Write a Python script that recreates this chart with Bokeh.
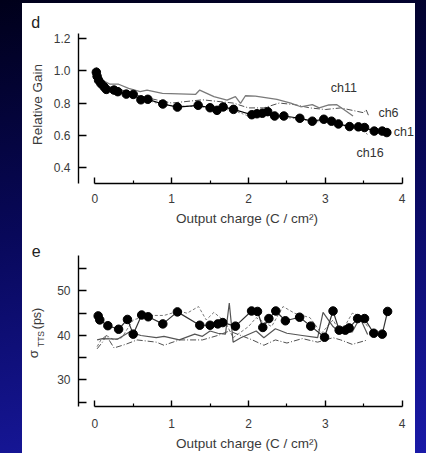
import math
from bokeh.plotting import figure
from bokeh.layouts import column, row
from bokeh.models import FixedTicker, Label
from bokeh.embed import file_html
from bokeh.resources import INLINE

# ---------------- data: panel d (relative gain vs output charge) ----------------
gain_ch1_x = [0.02, 0.03, 0.05, 0.08, 0.12, 0.15, 0.25, 0.30, 0.41, 0.50, 0.60, 0.69,
              0.885, 1.075, 1.345, 1.50, 1.59, 1.67, 1.805, 2.043, 2.11, 2.18, 2.25,
              2.34, 2.46, 2.668, 2.83, 2.98, 3.08, 3.17, 3.315, 3.43, 3.51, 3.636,
              3.74, 3.80]
gain_ch1_y = [0.99, 0.965, 0.94, 0.92, 0.90, 0.884, 0.88, 0.87, 0.855, 0.853, 0.82, 0.823,
              0.794, 0.775, 0.786, 0.771, 0.755, 0.776, 0.761, 0.728, 0.734, 0.737, 0.747,
              0.72, 0.72, 0.706, 0.688, 0.70, 0.688, 0.671, 0.655, 0.653, 0.649, 0.627,
              0.627, 0.618]

gain_ch11_x = [0.02, 0.10, 0.20, 0.31, 0.44, 0.59, 0.68, 0.88, 1.31, 1.365, 1.55, 1.72,
               1.83, 1.896, 1.96, 2.09, 2.37, 2.55, 2.68, 2.83, 2.92, 3.045, 3.15, 3.24, 3.36]
gain_ch11_y = [1.02, 0.94, 0.916, 0.916, 0.89, 0.87, 0.88, 0.86, 0.853, 0.88, 0.84, 0.818,
               0.84, 0.798, 0.845, 0.843, 0.822, 0.80, 0.777, 0.79, 0.77, 0.788, 0.79, 0.76, 0.72]

gain_ch6_x = [0.02, 0.10, 0.25, 0.45, 0.60, 0.80, 1.00, 1.20, 1.40, 1.60, 1.80, 2.00,
              2.20, 2.40, 2.60, 2.80, 3.00, 3.20, 3.40, 3.50, 3.53, 3.56]
gain_ch6_y = [1.00, 0.92, 0.89, 0.87, 0.84, 0.82, 0.80, 0.81, 0.82, 0.81, 0.80, 0.77,
              0.77, 0.80, 0.79, 0.77, 0.76, 0.77, 0.75, 0.74, 0.76, 0.725]

gain_ch16_x = [0.02, 0.10, 0.25, 0.45, 0.60, 0.80, 1.00, 1.20, 1.40, 1.60, 1.80, 2.00,
               2.20, 2.40, 2.60, 2.80, 3.00, 3.20, 3.40, 3.50, 3.55]
gain_ch16_y = [0.98, 0.91, 0.875, 0.85, 0.83, 0.80, 0.785, 0.78, 0.775, 0.765, 0.755, 0.72,
               0.73, 0.715, 0.705, 0.69, 0.68, 0.665, 0.645, 0.635, 0.604]

channel_names = ["ch11", "ch6", "ch1", "ch16"]
channel_label_x = [3.07, 3.69, 3.89, 3.405]
channel_label_y = [0.894, 0.739, 0.622, 0.494]

# ---------------- data: panel e (sigma_TTS vs output charge) ----------------
tts_ch1_x = [0.044, 0.065, 0.17, 0.31, 0.425, 0.50, 0.61, 0.695, 0.885, 1.075, 1.366,
             1.50, 1.60, 1.665, 1.83, 2.04, 2.117, 2.186, 2.265, 2.355, 2.48, 2.665,
             2.81, 2.99, 3.10, 3.18, 3.26, 3.31, 3.42, 3.51, 3.63, 3.74, 3.81]
tts_ch1_y = [44.4, 43.5, 42.2, 41.4, 43.6, 40.3, 44.6, 44.2, 42.6, 45.3, 42.3,
             42.3, 42.6, 42.9, 42.1, 45.5, 45.4, 41.8, 43.8, 45.5, 43.3, 44.1,
             42.1, 39.6, 45.5, 41.2, 41.2, 41.7, 43.8, 43.8, 40.5, 40.3, 45.4]

tts_solid_x = [0.03, 0.10, 0.30, 0.45, 0.60, 0.80, 0.90, 1.10, 1.30, 1.40, 1.50, 1.60,
               1.70, 1.75, 1.80, 1.90, 2.10, 2.20, 2.35, 2.50, 2.70, 2.90, 2.97, 3.10,
               3.20, 3.35, 3.45, 3.55]
tts_solid_y = [39.0, 39.3, 39.2, 40.8, 40.0, 39.5, 39.8, 39.0, 40.3, 39.8, 41.0, 40.5,
               40.3, 47.3, 38.5, 39.5, 41.0, 39.5, 41.5, 40.5, 40.0, 39.5, 45.2, 42.0,
               40.5, 40.8, 44.0, 40.2]

tts_dash_x = [0.03, 0.08, 0.15, 0.25, 0.35, 0.50, 0.70, 0.90, 1.10, 1.20, 1.35, 1.45,
              1.55, 1.70, 1.80, 2.00, 2.10, 2.30, 2.45, 2.60, 2.80, 2.95, 3.10, 3.20,
              3.35, 3.45, 3.55]
tts_dash_y = [37.5, 39.0, 40.0, 39.0, 39.5, 43.5, 44.5, 44.5, 45.5, 45.0, 46.5, 43.5,
              45.2, 43.0, 39.5, 42.0, 44.0, 42.0, 46.5, 45.0, 44.0, 40.5, 43.5, 40.5,
              45.0, 44.5, 42.0]

tts_dashdot_x = [0.03, 0.10, 0.15, 0.25, 0.40, 0.55, 0.80, 0.90, 1.10, 1.40, 1.60, 1.75,
                 1.90, 2.05, 2.20, 2.35, 2.50, 2.70, 2.90, 3.10, 3.20, 3.35, 3.45, 3.55]
tts_dashdot_y = [37.0, 38.5, 40.0, 37.2, 38.0, 39.0, 38.5, 37.8, 39.0, 39.0, 40.0, 41.0,
                 40.0, 39.0, 37.8, 39.0, 38.3, 39.3, 38.5, 39.5, 39.0, 38.0, 38.5, 39.0]

x_ticks = [0, 1, 2, 3, 4]
x_minor_ticks = [0.5, 1.5, 2.5, 3.5]
gain_ticks = [0.4, 0.6, 0.8, 1.0, 1.2]
gain_tick_labels = {0.4: "0.4", 0.6: "0.6", 0.8: "0.8", 1.0: "1.0", 1.2: "1.2"}
tts_ticks = [25, 30, 35, 40, 45, 50, 55]
tts_tick_labels = {25: "", 30: "30", 35: "", 40: "40", 45: "", 50: "50", 55: ""}

FONT = "Liberation Sans"
TXT = "#3a3a3a"
PANEL_H = 225
SIDE_W = 26
MAIN_W = 367
XR = (-0.212, 4.173)


def style(p, label_standoff, title_standoff):
    p.grid.visible = False
    p.outline_line_color = None
    p.background_fill_color = "white"
    p.border_fill_color = "white"
    for ax in (p.xaxis[0], p.yaxis[0]):
        ax.axis_line_width = 1.4
        ax.axis_line_color = "black"
        ax.major_tick_line_color = "black"
        ax.major_tick_line_width = 1.4
        ax.minor_tick_line_color = "black"
        ax.minor_tick_line_width = 1.2
        ax.major_tick_out = 0
        ax.minor_tick_out = 0
        ax.major_label_text_font = FONT
        ax.major_label_text_font_size = "12px"
        ax.major_label_text_color = TXT
        ax.axis_label_text_font = FONT
        ax.axis_label_text_font_size = "13.5px"
        ax.axis_label_text_font_style = "normal"
        ax.axis_label_text_color = TXT
    xa = p.xaxis[0]
    xa.ticker = FixedTicker(ticks=x_ticks, minor_ticks=x_minor_ticks)
    xa.bounds = (0, 4)
    xa.major_tick_in = 6
    xa.minor_tick_in = 3
    xa.major_label_standoff = label_standoff
    xa.axis_label_standoff = title_standoff
    xa.axis_label = "Output charge (C / cm²)"
    ya = p.yaxis[0]
    ya.major_tick_in = 8
    ya.minor_tick_in = 0
    ya.major_label_standoff = 8


def side_fig():
    s = figure(width=SIDE_W, height=PANEL_H, x_range=(0, SIDE_W), y_range=(0, PANEL_H),
               x_axis_type=None, y_axis_type=None, output_backend="svg",
               toolbar_location=None, title_location=None, min_border=0)
    s.grid.visible = False
    s.outline_line_color = None
    s.background_fill_color = "white"
    s.border_fill_color = "white"
    return s


def side_label(s, x, y, text, size, angle=0.0, align="center", baseline="middle", color=TXT):
    s.add_layout(Label(x=x, y=y, text=text, angle=angle, text_font=FONT,
                       text_font_size=size, text_color=color, text_align=align,
                       text_baseline=baseline))


# ---------------- panel d ----------------
p1 = figure(width=MAIN_W, height=PANEL_H, x_range=XR, y_range=(0.3038, 1.2288),
            output_backend="svg", toolbar_location=None, title_location=None,
            min_border_left=30, min_border_right=0, min_border_top=30, min_border_bottom=44)
style(p1, 10, 5)
p1.yaxis[0].ticker = FixedTicker(ticks=gain_ticks, minor_ticks=[])
p1.yaxis[0].major_label_overrides = gain_tick_labels

p1.line(gain_ch16_x, gain_ch16_y, line_color="#808080", line_width=1.0, line_dash="2 2")
p1.line(gain_ch6_x, gain_ch6_y, line_color="#505050", line_width=1.0, line_dash="6 2 1 2")
p1.line(gain_ch11_x, gain_ch11_y, line_color="#7a7a7a", line_width=1.3)
p1.line(gain_ch1_x, gain_ch1_y, line_color="black", line_width=1.2)
p1.scatter(gain_ch1_x, gain_ch1_y, size=8.5, fill_color="black", line_color="black")

for name, lx, ly in zip(channel_names, channel_label_x, channel_label_y):
    p1.add_layout(Label(x=lx, y=ly, text=name, text_font=FONT, text_font_size="12.5px",
                        text_color="#333333", text_align="left", text_baseline="middle"))

s1 = side_fig()
side_label(s1, 8.7, 206.3, "d", "16px", align="left", baseline="alphabetic", color="#222222")
side_label(s1, 14.5, 124, "Relative Gain", "13.5px", angle=math.pi / 2)

# ---------------- panel e ----------------
p2 = figure(width=MAIN_W, height=PANEL_H, x_range=XR, y_range=(24.04, 57.97),
            output_backend="svg", toolbar_location=None, title_location=None,
            min_border_left=30, min_border_right=0, min_border_top=27, min_border_bottom=46)
style(p2, 12, 5)
p2.yaxis[0].ticker = FixedTicker(ticks=tts_ticks, minor_ticks=[])
p2.yaxis[0].major_label_overrides = tts_tick_labels

p2.line(tts_dash_x, tts_dash_y, line_color="#7a7a7a", line_width=1.0, line_dash="3 2")
p2.line(tts_dashdot_x, tts_dashdot_y, line_color="#505050", line_width=1.0, line_dash="6 2 1 2")
p2.line(tts_solid_x, tts_solid_y, line_color="#555555", line_width=1.2)
p2.line(tts_ch1_x, tts_ch1_y, line_color="#333333", line_width=1.2)
p2.scatter(tts_ch1_x, tts_ch1_y, size=8.5, fill_color="black", line_color="black")

s2 = side_fig()
side_label(s2, 9.3, 203, "e", "16px", align="left", baseline="alphabetic", color="#222222")
# y-axis title: sigma with subscript TTS, then (ps)
side_label(s2, 11, 99.3, "σ", "13.5px", angle=math.pi / 2)
side_label(s2, 18, 114.5, "TTS", "8.5px", angle=math.pi / 2)
side_label(s2, 14.5, 135, "(ps)", "12.5px", angle=math.pi / 2)

side_col = column(s1, s2, spacing=0)
main_col = column(p1, p2, spacing=0)
inner = row(side_col, main_col, spacing=0,
            margin=(3, 11, 0, 22), styles={"background-color": "white"})
layout = column(inner, spacing=0,
                styles={"background": "linear-gradient(170deg, #00001a 0%, #08085a 45%, #1a1aa8 100%)"})

open("out.html", "w").write(file_html(layout, INLINE))
